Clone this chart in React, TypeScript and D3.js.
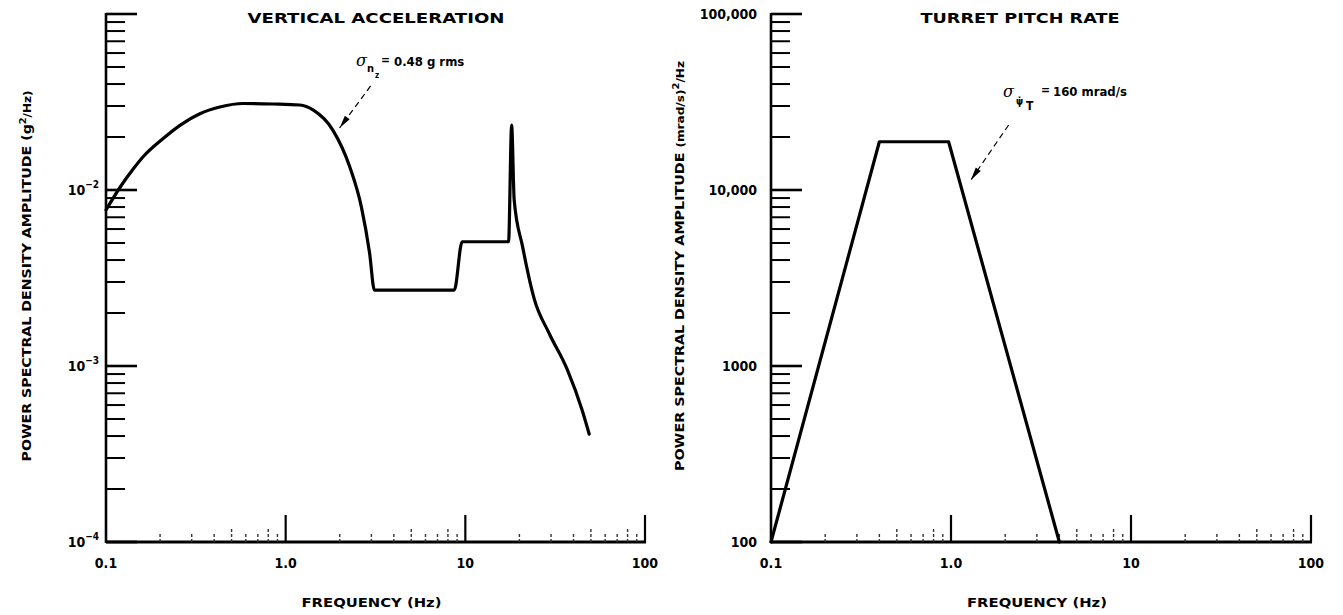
import React, { useRef, useEffect } from 'react'
import * as d3 from 'd3'

const W = 1343
const H = 615
const TOP = 14
const BOTTOM = 542
const FONT = "'DejaVu Sans Condensed', 'Liberation Sans Narrow', 'DejaVu Sans', Arial, sans-serif"

// vertical acceleration PSD (Hz, g^2/Hz)
const accFreq = [0.1, 0.12, 0.142, 0.161, 0.208, 0.258, 0.333, 0.43, 0.58, 0.85, 1.2, 1.42, 1.83, 2.27, 2.64, 2.93, 3.12, 8.68, 9.6, 17.4, 18.1, 18.7, 20.8, 24.2, 29.3, 37.0, 44.7, 48.9]
const accPsd = [0.0077, 0.0104, 0.0132, 0.01545, 0.0196, 0.0233, 0.0271, 0.0296, 0.031, 0.0308, 0.0304, 0.0285, 0.0219, 0.0136, 0.008, 0.0044, 0.0027, 0.0027, 0.00508, 0.00508, 0.0234, 0.0088, 0.0048, 0.0024, 0.00153, 0.00095, 0.00056, 0.00041]

// turret pitch rate PSD, right panel (Hz, (mrad/s)^2/Hz)
const pitchFreq = [0.1, 0.4, 0.97, 4.0]
const pitchPsd = [100, 18800, 18800, 100]

// axes
const freqTicks = [0.1, 1, 10, 100]
const freqLabels = ['0.1', '1.0', '10', '100']
const accExpTicks = [-4, -3, -2]
const pitchTicks = [100, 1000, 10000, 100000]
const pitchLabels = ['100', '1000', '10,000', '100,000']

function drawPanel(svg, p) {
  const x = d3.scaleLog().domain([0.1, 100]).range([p.left, p.right])
  const y = d3.scaleLog().domain(p.yDomain).range([BOTTOM, TOP])
  const g = svg.append('g')

  // y axis + inside ticks
  g.append('line').attr('x1', p.left).attr('x2', p.left).attr('y1', TOP - 1).attr('y2', BOTTOM + 1)
    .attr('stroke', '#000').attr('stroke-width', 2.6)
  y.ticks().forEach(t => {
    const lg = Math.log10(t)
    const major = Math.abs(lg - Math.round(lg)) < 1e-9
    g.append('line').attr('x1', p.left).attr('x2', p.left + (major ? 31 : 19))
      .attr('y1', y(t)).attr('y2', y(t))
      .attr('stroke', '#000').attr('stroke-width', major ? 2.6 : 2)
  })

  // x axis + inside ticks (faint, scanned look)
  g.append('line').attr('x1', p.left).attr('x2', p.right + 1).attr('y1', BOTTOM).attr('y2', BOTTOM)
    .attr('stroke', '#000').attr('stroke-width', 3)
  x.ticks().forEach(t => {
    const lg = Math.log10(t)
    const major = Math.abs(lg - Math.round(lg)) < 1e-9
    if (t === 0.1) return
    const m = Math.round(t / Math.pow(10, Math.floor(lg + 1e-9)))
    const h = major ? 27 : (m === 5 || m === 8 ? 15 : 10)
    g.append('line').attr('x1', x(t)).attr('x2', x(t)).attr('y1', BOTTOM).attr('y2', BOTTOM - h)
      .attr('stroke', major ? '#000' : '#333').attr('stroke-width', major ? 2.2 : 1.4)
      .attr('stroke-dasharray', major ? null : '3 2')
  })

  // x tick labels
  freqTicks.forEach((t, i) => {
    g.append('text').attr('x', x(t)).attr('y', 568).attr('text-anchor', 'middle')
      .attr('font-family', FONT).attr('font-weight', 'bold').attr('font-size', 14)
      .text(freqLabels[i])
  })

  // axis title + panel title
  g.append('text').attr('x', (p.left + p.right) / 2 - 4).attr('y', 607).attr('text-anchor', 'middle')
    .attr('font-family', FONT).attr('font-weight', 'bold').attr('font-size', 13)
    .attr('textLength', 140).attr('lengthAdjust', 'spacingAndGlyphs')
    .text('FREQUENCY (Hz)')
  g.append('text').attr('x', p.titleX).attr('y', 23).attr('text-anchor', 'middle')
    .attr('font-family', "'DejaVu Sans', sans-serif").attr('font-weight', 'bold').attr('font-size', 14)
    .attr('textLength', p.titleLen).attr('lengthAdjust', 'spacingAndGlyphs')
    .text(p.title)

  // curve
  const line = d3.line().x(d => x(d[0])).y(d => y(d[1])).curve(p.curve)
  g.append('path').datum(d3.zip(p.freq, p.psd)).attr('d', line)
    .attr('fill', 'none').attr('stroke', '#000').attr('stroke-width', 3.2)
    .attr('stroke-linejoin', 'round').attr('stroke-linecap', 'round')

  // dashed leader with arrowhead
  const [fa, va] = p.leaderFrom
  const [fb, vb] = p.leaderTo
  const x1 = x(fa), y1 = y(va), x2 = x(fb), y2 = y(vb)
  g.append('line').attr('x1', x1).attr('y1', y1).attr('x2', x2).attr('y2', y2)
    .attr('stroke', '#000').attr('stroke-width', 1.2).attr('stroke-dasharray', '6 4')
  const ang = Math.atan2(y2 - y1, x2 - x1)
  const L = 13, Wd = 3
  const bx = x2 - L * Math.cos(ang), by = y2 - L * Math.sin(ang)
  g.append('path')
    .attr('d', `M${x2},${y2} L${bx + Wd * Math.sin(ang)},${by - Wd * Math.cos(ang)} L${bx - Wd * Math.sin(ang)},${by + Wd * Math.cos(ang)} Z`)
    .attr('fill', '#000')

  return { x, y, g }
}

export default function App() {
  const svgRef = useRef(null)

  useEffect(() => {
    const svg = d3.select(svgRef.current)
    svg.selectAll('*').remove()

    // ---- left: vertical acceleration
    const L = drawPanel(svg, {
      left: 106, right: 645, yDomain: [1e-4, 1e-1],
      freq: accFreq, psd: accPsd, curve: d3.curveMonotoneX,
      title: 'VERTICAL ACCELERATION', titleX: 376, titleLen: 257,
      leaderFrom: [2.97, 0.039], leaderTo: [1.995, 0.0225],
    })
    accExpTicks.forEach(e => {
      const t = L.g.append('text').attr('x', 99).attr('y', L.y(Math.pow(10, e)) + 5).attr('text-anchor', 'end')
        .attr('font-family', FONT).attr('font-weight', 'bold').attr('font-size', 14)
      t.append('tspan').text('10')
      t.append('tspan').attr('dy', -7).attr('font-size', 10).text('\u2212' + Math.abs(e))
    })
    const lt = L.g.append('text').attr('transform', 'translate(31,276) rotate(-90)').attr('text-anchor', 'middle')
      .attr('font-family', FONT).attr('font-weight', 'bold').attr('font-size', 13)
      .attr('textLength', 371).attr('lengthAdjust', 'spacingAndGlyphs')
    lt.append('tspan').text('POWER SPECTRAL DENSITY AMPLITUDE (g')
    lt.append('tspan').attr('dy', -5).attr('font-size', 9).text('2')
    lt.append('tspan').attr('dy', 5).attr('font-size', 11).text('/Hz)')

    const la = L.g.append('text').attr('font-family', FONT).attr('font-weight', 'bold')
    la.append('tspan').attr('x', 356).attr('y', 66).attr('font-size', 16).attr('font-style', 'italic')
      .attr('font-family', "'DejaVu Serif', serif").attr('font-weight', 'normal').text('\u03c3')
    la.append('tspan').attr('x', 367).attr('y', 72).attr('font-size', 11).text('n')
    la.append('tspan').attr('x', 375).attr('y', 78).attr('font-size', 8).text('z')
    la.append('tspan').attr('x', 381).attr('y', 64).attr('font-size', 12).text('=')
    la.append('tspan').attr('x', 394).attr('y', 66).attr('font-size', 13).text('0.48 g rms')

    // ---- right: turret pitch rate
    const R = drawPanel(svg, {
      left: 771, right: 1311, yDomain: [100, 100000],
      freq: pitchFreq, psd: pitchPsd, curve: d3.curveLinear,
      title: 'TURRET PITCH RATE', titleX: 1020, titleLen: 199,
      leaderFrom: [2.09, 23400], leaderTo: [1.29, 11400],
    })
    pitchTicks.forEach((v, i) => {
      R.g.append('text').attr('x', 757).attr('y', R.y(v) + 5).attr('text-anchor', 'end')
        .attr('font-family', FONT).attr('font-weight', 'bold').attr('font-size', 14)
        .text(pitchLabels[i])
    })
    const rt = R.g.append('text').attr('transform', 'translate(684,266) rotate(-90)').attr('text-anchor', 'middle')
      .attr('font-family', FONT).attr('font-weight', 'bold').attr('font-size', 13)
      .attr('textLength', 410).attr('lengthAdjust', 'spacingAndGlyphs')
    rt.append('tspan').text('POWER SPECTRAL DENSITY AMPLITUDE ')
    rt.append('tspan').attr('font-size', 11).text('(mrad/s)')
    rt.append('tspan').attr('dy', -5).attr('font-size', 9).text('2')
    rt.append('tspan').attr('dy', 5).attr('font-size', 11).text('/Hz')

    const ra = R.g.append('text').attr('font-family', FONT).attr('font-weight', 'bold')
    ra.append('tspan').attr('x', 1003).attr('y', 97).attr('font-size', 16).attr('font-style', 'italic')
      .attr('font-family', "'DejaVu Serif', serif").attr('font-weight', 'normal').text('\u03c3')
    ra.append('tspan').attr('x', 1016).attr('y', 105).attr('font-size', 10).text('\u03c8\u0307')
    ra.append('tspan').attr('x', 1026).attr('y', 110).attr('font-size', 12).text('T')
    ra.append('tspan').attr('x', 1041).attr('y', 94).attr('font-size', 12).text('=')
    ra.append('tspan').attr('x', 1053).attr('y', 96).attr('font-size', 13).text('160 mrad/s')
  }, [])

  return (
    <svg ref={svgRef} width={W} height={H}
      style={{ position: 'absolute', left: 0, top: 0, background: '#fff' }} />
  )
}
